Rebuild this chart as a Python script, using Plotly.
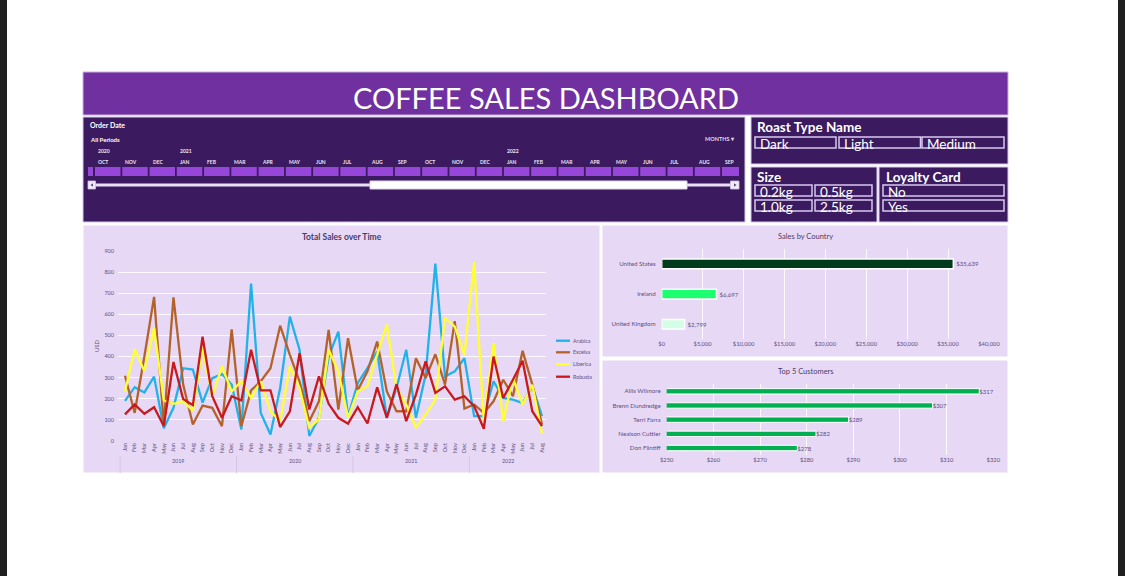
import plotly.graph_objects as go

W, H = 1125, 576
FONT = "Lato"


def px(x):
    return x / W


def py(y):
    return 1 - y / H


# ---------------- data ----------------
MONTHS = ["Jan", "Feb", "Mar", "Apr", "May", "Jun",
          "Jul", "Aug", "Sep", "Oct", "Nov", "Dec"]
YEARS = ["2019", "2020", "2021", "2022"]
month_labels = MONTHS * 3 + MONTHS[:8]

arabica = [190, 255, 230, 305, 60, 157, 345, 338, 182, 298, 317, 267,
           55, 746, 133, 31, 251, 589, 432, 24, 110, 400, 518, 115,
           275, 345, 424, 110, 251, 432, 110, 314, 840, 306, 330, 392,
           118, 118, 283, 204, 196, 180, 259, 118]
excelsa = [309, 133, 400, 683, 78, 680, 267, 78, 168, 157, 70, 529,
           70, 240, 283, 345, 546, 408, 283, 94, 188, 526, 149, 487,
           240, 330, 471, 235, 141, 141, 392, 298, 411, 267, 568, 154,
           173, 133, 188, 290, 212, 427, 267, 78]
liberica = [235, 436, 330, 534, 192, 176, 188, 144, 440, 212, 353, 235,
            283, 204, 283, 141, 94, 353, 251, 63, 102, 432, 330, 110,
            235, 259, 408, 553, 251, 173, 63, 126, 196, 584, 542, 408,
            848, 94, 463, 94, 298, 173, 267, 35]
robusta = [126, 173, 129, 160, 71, 374, 199, 170, 494, 212, 110, 212,
           192, 432, 240, 240, 66, 141, 416, 149, 306, 176, 110, 82,
           160, 83, 254, 110, 270, 94, 220, 377, 228, 259, 196, 212,
           165, 58, 400, 204, 290, 380, 141, 71]

series_names = ["Arabica", "Excelsa", "Liberica", "Robusta"]
series_values = [arabica, excelsa, liberica, robusta]
series_colors = ["#22B2EA", "#B4622C", "#FFFF33", "#C81A1E"]

countries = ["United States", "Ireland", "United Kingdom"]
country_sales = [35639, 6697, 2799]
country_colors = ["#003A1C", "#1CFF6E", "#D4FFE4"]

customers = ["Allis Wilmore", "Brenn Dundredge", "Terri Farra",
             "Nealson Cuttler", "Don Flintiff"]
customer_sales = [317, 307, 289, 282, 278]

timeline_months = ["OCT", "NOV", "DEC", "JAN", "FEB", "MAR", "APR", "MAY",
                   "JUN", "JUL", "AUG", "SEP", "OCT", "NOV", "DEC", "JAN",
                   "FEB", "MAR", "APR", "MAY", "JUN", "JUL", "AUG", "SEP"]
timeline_years = {0: "2020", 3: "2021", 15: "2022"}

roast_types = ["Dark", "Light", "Medium"]
sizes = ["0.2kg", "0.5kg", "1.0kg", "2.5kg"]
loyalty = ["No", "Yes"]

# ---------------- colours ----------------
TITLE_BG = "#7030A0"
DARK_BG = "#3B1A5F"
LIGHT_BG = "#E7D9F5"
CELL = "#9646D8"
AXIS_TXT = "#5F4D7E"
GRID = "rgba(255,255,255,0.85)"

shapes = []
annotations = []


def rect(x0, y0, x1, y1, fill, line_color="rgba(0,0,0,0)", lw=0):
    shapes.append(dict(type="rect", xref="paper", yref="paper",
                       x0=px(x0), x1=px(x1), y0=py(y1), y1=py(y0),
                       fillcolor=fill, line=dict(color=line_color, width=lw),
                       layer="below"))


def text(x, y, s, size, color="white", bold=False, xanchor="left",
         yanchor="middle"):
    annotations.append(dict(x=px(x), y=py(y), xref="paper", yref="paper",
                            text=s, showarrow=False, xanchor=xanchor,
                            yanchor=yanchor,
                            font=dict(family=FONT, size=size, color=color,
                                      weight="bold" if bold else "normal")))


# page edges
rect(0, 0, 7, H, "#1F1F1F")
rect(1118, 0, W, H, "#1F1F1F")

# title bar
rect(83, 72, 1008, 115, TITLE_BG, "#C9B3E0", 1)
text(545.5, 97.5, "COFFEE SALES DASHBOARD", 29, "white", xanchor="center")

# ---------------- timeline slicer ----------------
rect(83, 117, 745, 222, DARK_BG, "#D6C8EA", 1)
text(88, 125.5, "Order Date", 7, "white", True)
text(88, 139, "All Periods", 6, "white", True)
text(737, 139, "MONTHS \u25BE", 5.5, "#E4DAF0", True, xanchor="right")
rect(88, 167, 93, 176, CELL)
step = 27.26
for i, m in enumerate(timeline_months):
    x0 = 95 + i * step
    x1 = min(x0 + 25.5, 739)
    rect(x0, 167, x1, 176, CELL)
    text(x0 + 1, 161.5, m, 5, "#ECE4F4", True)
    if i in timeline_years:
        text(x0 + 1, 151, timeline_years[i], 5, "#ECE4F4", True)
# scroll bar
rect(95, 183.5, 731, 186.5, "#E8DFF3")
rect(370, 181, 687, 189, "white", "#E0D4EE", 1)
rect(88, 181, 95.5, 189, "#F2ECF8", "#CFC0E3", 0.8)
rect(730.5, 181, 739, 189, "#F2ECF8", "#CFC0E3", 0.8)
shapes.append(dict(type="path", xref="paper", yref="paper", layer="below",
                   path="M {} {} L {} {} L {} {} Z".format(
                       px(90.5), py(185), px(93), py(183.3), px(93), py(186.7)),
                   fillcolor="#5B4A78", line=dict(width=0)))
shapes.append(dict(type="path", xref="paper", yref="paper", layer="below",
                   path="M {} {} L {} {} L {} {} Z".format(
                       px(736.5), py(185), px(734), py(183.3), px(734), py(186.7)),
                   fillcolor="#5B4A78", line=dict(width=0)))

# ---------------- button slicers ----------------
BTN_LINE = "#D9C9F0"


def button(x0, y0, x1, y1, label):
    rect(x0, y0, x1, y1, "rgba(0,0,0,0)", BTN_LINE, 1.5)
    text(x0 + 3, (y0 + y1) / 2 + 1.5, label, 13.5, "white")


rect(751, 117, 1008, 164, DARK_BG, "#D6C8EA", 1)
text(755, 127.5, "Roast Type Name", 13.5, "white", True)
for (x0, x1), lab in zip([(755, 836), (839, 920.5), (922, 1004)], roast_types):
    button(x0, 137, x1, 148, lab)

rect(751, 167, 877, 222, DARK_BG, "#D6C8EA", 1)
text(755, 177, "Size", 13.5, "white", True)
size_boxes = [(755, 185, 812, 196), (815, 185, 872, 196),
              (755, 200, 812, 211), (815, 200, 872, 211)]
for b, lab in zip(size_boxes, sizes):
    button(*b, lab)

rect(879, 167, 1008, 222, DARK_BG, "#D6C8EA", 1)
text(884, 177, "Loyalty Card", 13.5, "white", True)
for b, lab in zip([(883, 185, 1004, 196), (883, 200, 1004, 211)], loyalty):
    button(*b, lab)

# ---------------- chart panels ----------------
rect(83, 225, 600, 473, LIGHT_BG, "white", 1)
rect(602, 225, 1008, 357, LIGHT_BG, "white", 1)
rect(602, 360, 1008, 473, LIGHT_BG, "white", 1)

text(342, 237, "Total Sales over Time", 8.5, "#4B3B6B", True, xanchor="center")
text(805.5, 237, "Sales by Country", 7.5, "#4B3B6B", xanchor="center")
text(805.5, 371.5, "Top 5 Customers", 7.5, "#4B3B6B", xanchor="center")

fig = go.Figure()

# total sales over time
period = list(range(len(month_labels)))
for name, vals, col in zip(series_names, series_values, series_colors):
    fig.add_trace(go.Scatter(x=period, y=vals, name=name, mode="lines",
                             line=dict(color=col, width=2.3),
                             xaxis="x", yaxis="y", showlegend=False))

# year groups under the month labels
for k, yr in enumerate(YEARS):
    months_in_year = [p for p in period if p // 12 == k]
    mid = (months_in_year[0] + months_in_year[-1]) / 2
    annotations.append(dict(x=mid, y=py(465.5), xref="x", yref="paper",
                            text=yr, showarrow=False,
                            font=dict(family=FONT, size=5.3, color=AXIS_TXT)))
for b in [-0.5, 11.5, 23.5, 35.5, 43.5]:
    shapes.append(dict(type="line", xref="x", yref="paper", x0=b, x1=b,
                       y0=py(456), y1=py(473),
                       line=dict(color="#D5C5E8", width=1), layer="below"))

# manual legend
for i, (name, col) in enumerate(zip(series_names, series_colors)):
    yy = [340.7, 352.3, 364.3, 376.7][i]
    shapes.append(dict(type="line", xref="paper", yref="paper",
                       x0=px(556), x1=px(570), y0=py(yy), y1=py(yy),
                       line=dict(color=col, width=2.3)))
    text(571, yy, name, 5.3, AXIS_TXT)

# sales by country
fig.add_trace(go.Bar(
    x=country_sales, y=countries, orientation="h",
    marker=dict(color=country_colors, line=dict(color="white", width=1.5)),
    width=0.32,
    text=["${:,.0f}".format(v) for v in country_sales],
    textposition="outside", cliponaxis=False, constraintext="none",
    textfont=dict(family=FONT, size=6, color=AXIS_TXT),
    xaxis="x2", yaxis="y2", showlegend=False))

# top 5 customers
fig.add_trace(go.Bar(
    x=customer_sales, y=customers, orientation="h",
    marker=dict(color="#00B050", line=dict(color="white", width=1)),
    width=0.38,
    text=["${:,.0f}".format(v) for v in customer_sales],
    textposition="outside", cliponaxis=False, constraintext="none",
    textfont=dict(family=FONT, size=6, color=AXIS_TXT),
    xaxis="x3", yaxis="y3", showlegend=False))

tick_font = dict(family=FONT, size=5.8, color=AXIS_TXT)

fig.update_layout(
    width=W, height=H,
    margin=dict(l=0, r=0, t=0, b=0, pad=0, autoexpand=False),
    paper_bgcolor="white",
    plot_bgcolor="rgba(0,0,0,0)",
    font=dict(family=FONT),
    showlegend=False,
    xaxis=dict(domain=[px(118), px(546)], range=[-0.72, 43.41],
               tickmode="array", tickvals=period, ticktext=month_labels,
               tickangle=-90, tickfont=dict(family=FONT, size=5.6, color=AXIS_TXT),
               showgrid=False, zeroline=False, showline=False, ticks="",
               automargin=False),
    yaxis=dict(domain=[py(441), py(251)], range=[0, 900], dtick=100,
               gridcolor=GRID, gridwidth=1, zeroline=False, showline=False,
               tickfont=dict(family=FONT, size=5.5, color=AXIS_TXT),
               ticklabelstandoff=3, automargin=False,
               title=dict(text="USD", font=dict(family=FONT, size=5.8,
                                                color=AXIS_TXT), standoff=4)),
    xaxis2=dict(domain=[px(661.7), px(989)], range=[0, 40000], dtick=5000,
                tickprefix="$", tickformat=",", anchor="y2",
                gridcolor=GRID, zeroline=False, showline=False,
                tickfont=tick_font, automargin=False),
    yaxis2=dict(domain=[py(339.4), py(248.7)], anchor="x2",
                autorange="reversed", type="category", showgrid=False,
                tickfont=dict(family=FONT, size=6.2, color=AXIS_TXT),
                ticklabelstandoff=5, automargin=False),
    xaxis3=dict(domain=[px(666.7), px(993.3)], range=[250, 320], dtick=10,
                tickprefix="$", anchor="y3",
                gridcolor=GRID, zeroline=False, showline=False,
                tickfont=tick_font, automargin=False),
    yaxis3=dict(domain=[py(455.1), py(384.2)], anchor="x3",
                autorange="reversed", type="category", showgrid=False,
                tickfont=dict(family=FONT, size=6.2, color=AXIS_TXT),
                ticklabelstandoff=5, automargin=False),
    shapes=shapes,
    annotations=annotations,
)

fig.write_html("out.html")
